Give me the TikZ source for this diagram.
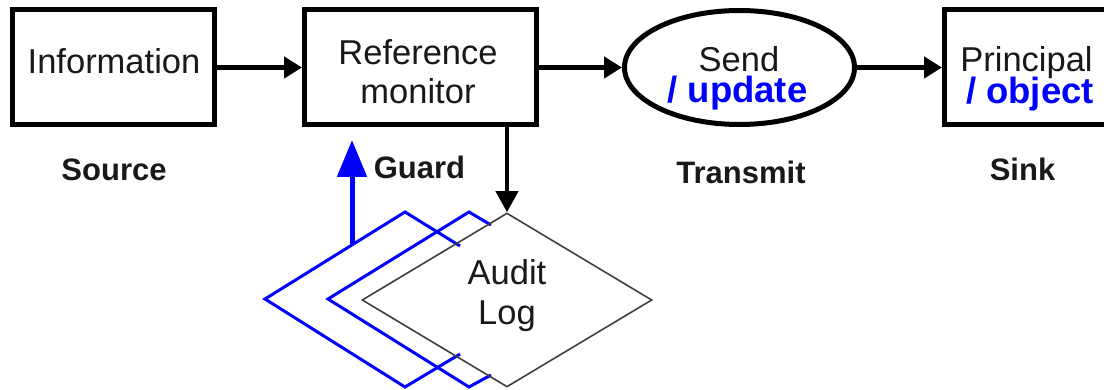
\documentclass[tikz,border=0pt]{standalone}
\usepackage{fontspec}
\setmainfont{Liberation Sans}
\usetikzlibrary{arrows.meta,shapes.geometric}

\tikzset{
  blk/.style={draw=black, line width=5pt, rectangle, inner sep=0pt,
              minimum width=#1, minimum height=115pt},
  oval/.style={draw=black, line width=5pt, ellipse, inner sep=0pt,
               minimum width=230pt, minimum height=114pt},
  logbox/.style={draw=black!75, line width=1.6pt, diamond, inner sep=0pt,
                 minimum width=290pt, minimum height=174pt},
  txt/.style={anchor=base, inner sep=0pt, text=black!90,
              font=\fontsize{34.5pt}{40pt}\selectfont},
  bluetxt/.style={anchor=base, inner sep=0pt, text=blue,
                  font=\fontsize{36.5pt}{42pt}\selectfont\bfseries},
  role/.style={anchor=base, inner sep=0pt, text=black!90,
               font=\fontsize{31pt}{36pt}\selectfont\bfseries},
  flow/.style={draw=black, line width=4.5pt,
               -{Triangle[length=18pt,width=21pt]}},
  drop/.style={draw=black, line width=4pt,
               -{Triangle[length=21pt,width=22pt]}},
  copyline/.style={draw=blue, line width=3pt},
  uparrow/.style={draw=blue, line width=5pt,
                  -{Triangle[length=37pt,width=29pt]}},
}

\begin{document}
\begin{tikzpicture}[x=1pt, y=-1pt]
  \clip (0,0) rectangle (1104,390);
  \fill[white] (0,0) rectangle (1104,390);

  % main flow: source -> guard -> transmit -> sink
  \node[blk=202pt] (info) at (113.5,67.5) {};
  \node[blk=232pt] (rm)   at (420.5,67.5) {};
  \node[oval]      (send) at (739.5,67.5) {};
  \node[blk=220pt] (sink) at (1054.5,67.5) {};

  \node[txt] (infotext) at (114,74) {Information};
  \node[txt] (rmtext1)  at (418,65) {Reference};
  \node[txt] (rmtext2)  at (418,104) {monitor};
  \node[txt] (sendtext) at (739,72) {Send};
  \node[bluetxt] (sendupd) at (737.5,103) {/ update};
  \node[txt] (sinktext) at (1026.5,72) {Principal};
  \node[bluetxt] (sinkobj) at (1030,104) {/ object};

  \draw[flow] (info.east) -- (rm.west);
  \draw[flow] (rm.east) -- (send.west);
  \draw[flow] (send.east) -- (sink.west);

  % role labels under the boxes
  \node[role] (lsource)   at (114,181) {Source};
  \node[role] (lguard)    at (419.5,179) {Guard};
  \node[role] (ltransmit) at (741,184) {Transmit};
  \node[role] (lsink)     at (1022.5,181) {Sink};

  % copies of the audit log (blue outlines)
  \draw[copyline, line join=miter]
    (460,246) -- (405,212) -- (265,299) -- (405,387) -- (460,354);
  \draw[copyline, line join=miter]
    (491,225) -- (469,212) -- (328,299) -- (469,387) -- (491,375);
  \coordinate (feedfoot) at (352,244);
  \coordinate (feedtip)  at (352,140);
  \draw[uparrow] (feedfoot) -- (feedtip);

  % audit log
  \node[logbox] (log) at (507,300) {};
  \node[txt] (logtext1) at (507,285) {Audit};
  \node[txt] (logtext2) at (507,325) {Log};
  \draw[drop] (rm.south -| log.north) -- (log.north);
\end{tikzpicture}
\end{document}
